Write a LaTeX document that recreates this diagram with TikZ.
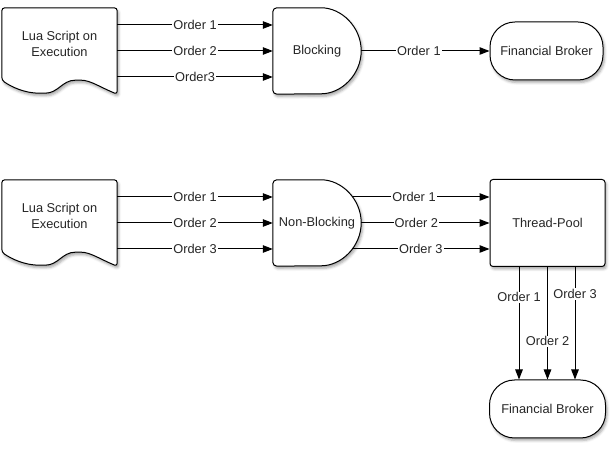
\documentclass[tikz,border=0pt]{standalone}
\usepackage{fontspec}
\setmainfont{Liberation Sans}
\usetikzlibrary{arrows.meta,calc,backgrounds,shadows.blur}

\tikzset{
  box/.style={draw=black, line width=1pt, fill=white,
    blur shadow={shadow xshift=1.5pt, shadow yshift=-2.5pt, shadow blur radius=2.5pt, shadow opacity=35}},
  txt/.style={inner sep=0pt, align=center, text=black!85, font=\fontsize{12.8}{15.5}\selectfont},
  order/.style={txt, fill=white, inner sep=1pt},
  arr/.style={-{Triangle[length=10pt,width=7.5pt]}, line width=1pt}
}

\begin{document}
\begin{tikzpicture}[x=1pt,y=1pt]
\useasboundingbox (0,0) rectangle (610,457);

% blocking call
\node[txt, minimum width=115, minimum height=72] (luaA) at (59.5,413) {Lua Script on\\Execution};
\node[txt, minimum width=88, minimum height=86] (blk) at (317,406) {Blocking};
\node[box, txt, minimum width=113, minimum height=58, rounded corners=25] (brkA) at (546.5,406) {Financial Broker};

\foreach \dy/\lab in {26/Order 1, 0/Order 2, -26/Order3}
  \draw[arr] ($(luaA.east |- blk.west)+(0,\dy)$) -- ($(blk.west)+(0,\dy)$) node[order, midway] {\lab};
\draw[arr] (blk.east) -- (brkA.west) node[order, pos=.45] {Order 1};

% non-blocking call with a pool of threads
\node[txt, minimum width=115, minimum height=72] (luaB) at (59.5,241) {Lua Script on\\Execution};
\node[txt, minimum width=88, minimum height=86] (nblk) at (317,234) {Non-Blocking};
\node[box, txt, minimum width=115, minimum height=87, rounded corners=3] (pool) at (547.5,234) {Thread-Pool};
\node[box, txt, minimum width=116, minimum height=58, rounded corners=25] (brkB) at (547.5,48) {Financial Broker};

\foreach \dy/\lab in {26/Order 1, 0/Order 2, -26/Order 3}
  \draw[arr] ($(luaB.east |- nblk.west)+(0,\dy)$) -- ($(nblk.west)+(0,\dy)$) node[order, midway] {\lab};
\foreach \dy/\dx/\p/\lab in {26/-9/.45/Order 1, 0/0/.43/Order 2, -26/-9/.5/Order 3}
  \draw[arr] ($(nblk.east)+(\dx,\dy)$) -- ($(pool.west)+(0,\dy)$) node[order, pos=\p] {\lab};
\foreach \dx/\p/\lab in {-28.5/.27/Order 1, 0/.66/Order 2, 27.5/.24/Order 3}
  \draw[arr] ($(pool.south)+(\dx,0)$) -- ($(brkB.north)+(\dx,0)$) node[order, pos=\p] {\lab};

\begin{scope}[on background layer]
% script sheets with a wavy lower edge
\foreach \n in {luaA,luaB}
  \draw[box, rounded corners=3] (\n.north west) -- (\n.north east) -- ($(\n.south east)+(0,-14)$)
    .. controls +(-17,7) and +(12,0) .. ++(-39,14)
    .. controls +(-16,0) and +(16,0) .. ++(-36,-13)
    .. controls +(-17,0) and +(10,-7) .. (\n.south west) -- cycle;
% delay shapes
\foreach \n in {blk,nblk}
  \draw[box, rounded corners=4] ([xshift=-44pt]\n.north east)
    arc[start angle=90, end angle=-90, x radius=44, y radius=43]
    -- (\n.south west) -- (\n.north west) -- cycle;
\end{scope}
\end{tikzpicture}
\end{document}
